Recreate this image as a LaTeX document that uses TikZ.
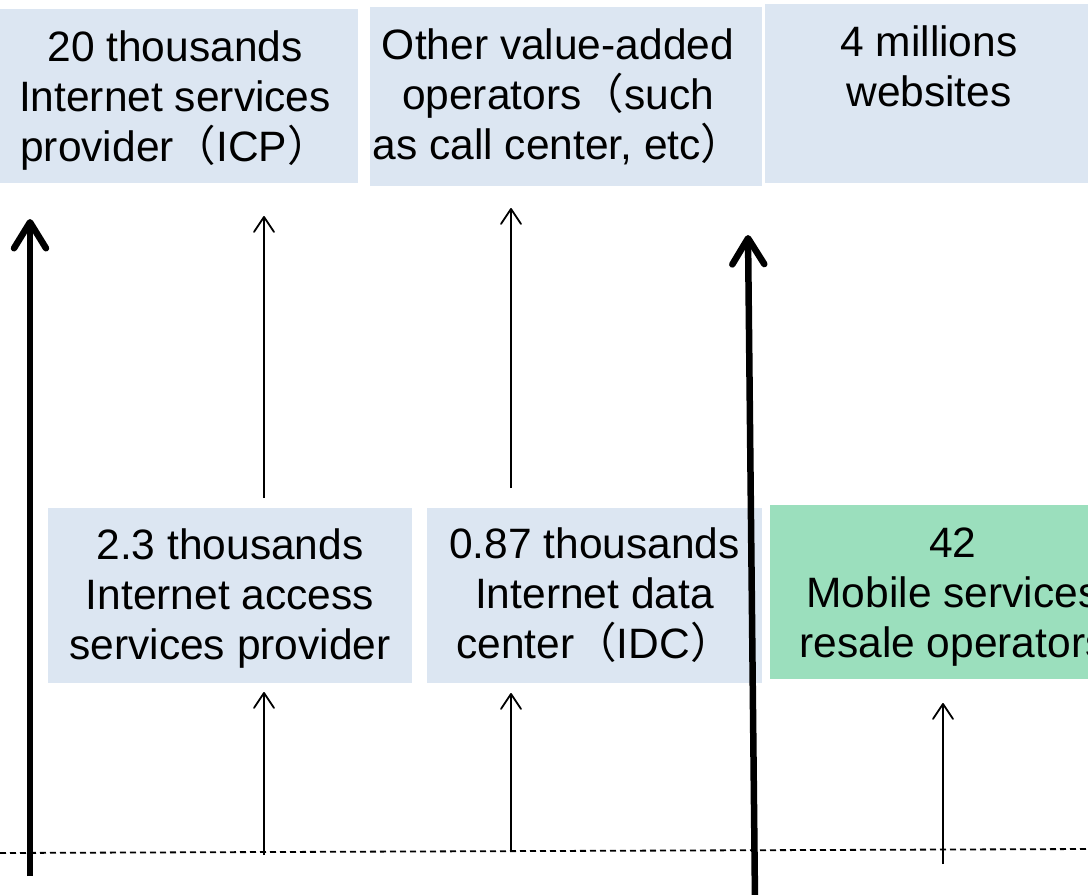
\documentclass[tikz,border=0pt]{standalone}
\usepackage{fontspec}
\setmainfont{Liberation Sans}
\newfontfamily\cjk{Noto Sans CJK SC}
\usetikzlibrary{arrows.meta}
\definecolor{boxblue}{RGB}{220,230,242}
\definecolor{boxgreen}{RGB}{155,223,189}
\newcommand{\fwl}{{\cjk （}}
\newcommand{\fwr}{{\cjk ）}}
\tikzset{
  box/.style={fill=boxblue, inner sep=0pt},
  boxtext/.style={inner sep=0pt, align=center,
    font=\fontsize{42.5}{50}\selectfont},
  thinarrow/.style={line width=1.8pt, -{Straight Barb[length=15pt,width=20pt,round]}},
  thickarrow/.style={line width=6.5pt, -{Straight Barb[length=26pt,width=32pt,round]}},
}
\begin{document}
\begin{tikzpicture}[x=1pt,y=-1pt]
    \useasboundingbox (0,0) rectangle (1088,895);
    \clip (0,0) rectangle (1088,895);

    % boxes
    \node[box, minimum width=364pt, minimum height=174pt] (icp) at (176,96) {};
    \node[box, minimum width=392pt, minimum height=179pt] (vao) at (566,96.5) {};
    \node[box, minimum width=334pt, minimum height=179pt] (web) at (932,93.5) {};
    \node[box, minimum width=364pt, minimum height=175pt] (ias) at (230,595.5) {};
    \node[box, minimum width=335pt, minimum height=175pt] (idc) at (594.5,595.5) {};
    \node[box, fill=boxgreen, minimum width=360pt, minimum height=174pt] (mvno) at (950,592) {};

    % texts
    \node[boxtext] (icp text) at ([shift={(-1,5)}]icp.center)
        {20 thousands\\Internet services\\provider\fwl ICP\fwr};
    \node[boxtext] (vao text) at ([shift={(-8,0)}]vao.center)
        {Other value-added\\operators\fwl such\\as call center, etc\fwr};
    \node[boxtext] (web text) at ([shift={(-3,-27)}]web.center)
        {4 millions\\websites};
    \node[boxtext] (ias text) at ([shift={(0,3)}]ias.center)
        {2.3 thousands\\Internet access\\services provider};
    \node[boxtext] (idc text) at (idc.center)
        {0.87 thousands\\Internet data\\center\fwl IDC\fwr};
    \node[boxtext] (mvno text) at ([shift={(3,5)}]mvno.center)
        {42\\Mobile services\\resale operators};

    % base line
    \coordinate (base w) at (0,853);
    \coordinate (base e) at (1088,849);
    \draw[line width=1.8pt, dash pattern=on 6pt off 4pt] (base w) -- (base e);

    % thick arrows
    \coordinate (lt0) at (30,876);
    \coordinate (lt1) at (30,219);
    \coordinate (rt0) at (755,900);
    \coordinate (rt1) at (748,235);
    \draw[thickarrow] (lt0) -- (lt1);
    \draw[thickarrow] (rt0) -- (rt1);

    % thin arrows, upper row
    \coordinate (ias up) at (264,498);
    \coordinate (ias top) at (264,216);
    \coordinate (idc up) at (511,488);
    \coordinate (idc top) at (511,208);
    \draw[thinarrow] (ias up) -- (ias top);
    \draw[thinarrow] (idc up) -- (idc top);

    % thin arrows, lower row
    \coordinate (ias base) at (264,855);
    \coordinate (ias low) at (264,692);
    \coordinate (idc base) at (511,852);
    \coordinate (idc low) at (511,693);
    \coordinate (mvno base) at (943,864);
    \coordinate (mvno low) at (943,703);
    \draw[thinarrow] (ias base) -- (ias low);
    \draw[thinarrow] (idc base) -- (idc low);
    \draw[thinarrow] (mvno base) -- (mvno low);
\end{tikzpicture}
\end{document}
